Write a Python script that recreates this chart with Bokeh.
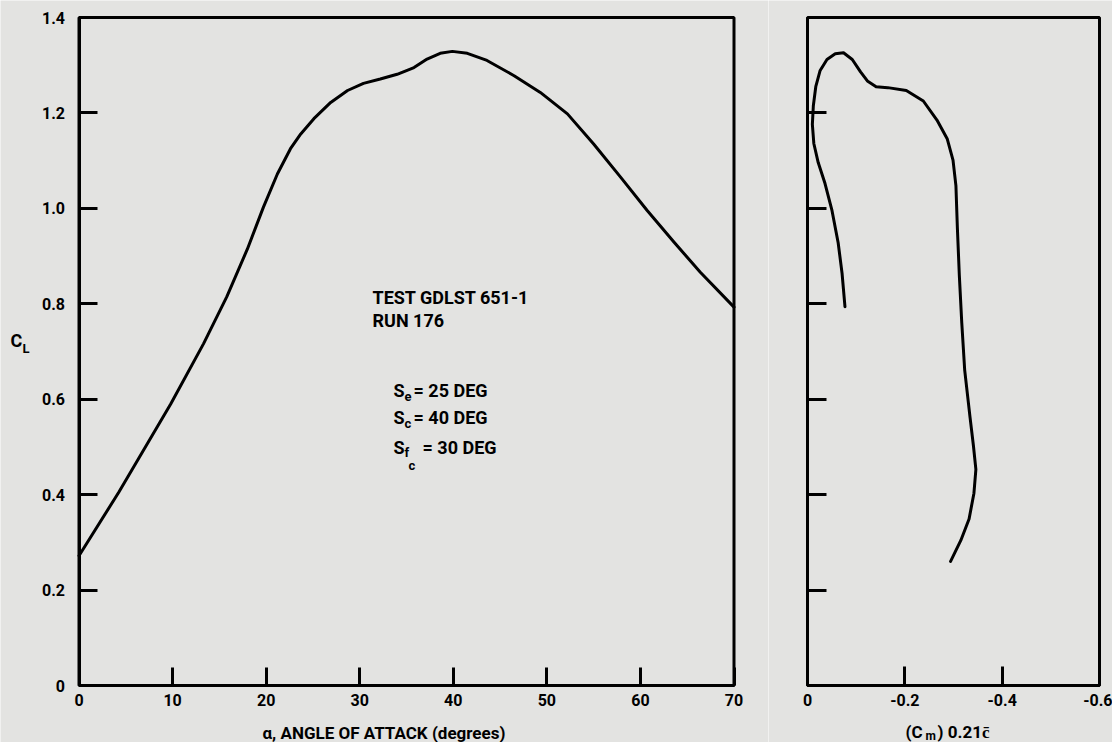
from bokeh.plotting import figure
from bokeh.layouts import row
from bokeh.models import Range1d, Label, FixedTicker, BoxAnnotation
from bokeh.embed import file_html
from bokeh.resources import INLINE

# ---- data ----
alpha_deg = [0, 4.25, 9.8, 13.3, 15.8, 18.0, 19.7, 21.2, 22.6, 23.7, 25.1, 26.9, 28.7, 30.4, 32.2, 34.0,
             35.8, 37.2, 38.6, 39.9, 41.5, 43.6, 46.5, 49.3, 52.2, 55.0, 57.9, 60.7, 63.6, 66.4, 70.0]
cl_alpha = [0.272, 0.405, 0.590, 0.716, 0.815, 0.915, 1.002, 1.072, 1.125, 1.156, 1.188, 1.222, 1.247,
            1.262, 1.271, 1.281, 1.295, 1.313, 1.325, 1.329, 1.325, 1.310, 1.278, 1.243, 1.198, 1.135,
            1.065, 0.996, 0.929, 0.866, 0.793]

cm_vals = [-0.294, -0.315, -0.332, -0.342, -0.346, -0.341, -0.334, -0.323, -0.317, -0.312, -0.308, -0.305,
           -0.299, -0.287, -0.266, -0.238, -0.203, -0.165, -0.141, -0.123, -0.109, -0.092, -0.074, -0.057,
           -0.040, -0.026, -0.017, -0.012, -0.010, -0.013, -0.022, -0.036, -0.050, -0.063, -0.071, -0.077]
cl_cm = [0.260, 0.304, 0.349, 0.403, 0.453, 0.502, 0.562, 0.661, 0.760, 0.859, 0.958, 1.047,
         1.101, 1.146, 1.185, 1.225, 1.247, 1.253, 1.255, 1.267, 1.286, 1.312, 1.326, 1.324,
         1.312, 1.289, 1.255, 1.215, 1.176, 1.136, 1.096, 1.052, 0.997, 0.928, 0.864, 0.794]

x_ticks_left = [0, 10, 20, 30, 40, 50, 60, 70]
y_ticks = [0, 0.2, 0.4, 0.6, 0.8, 1.0, 1.2, 1.4]
y_tick_labels = ["0", "0.2", "0.4", "0.6", "0.8", "1.0", "1.2", "1.4"]
x_ticks_right = [0, -0.2, -0.4, -0.6]
x_tick_labels_right = ["0", "-0.2", "-0.4", "-0.6"]
y_ticks_right = [0.2, 0.4, 0.6, 0.8, 1.0, 1.2]

FONT = "Roboto"
BG = "#e3e3e1"

# ---- layout (pixels on the page) ----
H = 742
W1, W2 = 768, 344
LX0, LX70 = 78.5, 733.5          # left box edges (x = 0 and 70)
PY0, PY14 = 685.0, 17.0          # box bottom / top (CL = 0 and 1.4)
RX0, RX6 = 807.0, 1099.0         # right box edges (Cm = 0 and -0.6)

SX1 = (LX70 - LX0) / 70.0
SY = (PY0 - PY14) / 1.4
SX2 = (RX6 - RX0) / 0.6


def Lpt(px, py):
    return (px - LX0) / SX1, (PY0 - py) / SY


def Rpt(px, py):
    return -(px - RX0) / SX2, (PY0 - py) / SY


y_lo, y_hi = -(H - PY0) / SY, 1.4 + PY14 / SY


def style(p, tick_len, xb, yb):
    p.title.visible = False
    p.background_fill_color = BG
    p.border_fill_color = BG
    p.outline_line_color = None
    p.xgrid.visible = False
    p.ygrid.visible = False
    p.xaxis.fixed_location = 0
    p.yaxis.fixed_location = 0
    p.xaxis.bounds = xb
    p.yaxis.bounds = yb
    for ax in (p.xaxis[0], p.yaxis[0]):
        ax.axis_line_width = 3
        ax.axis_line_color = "black"
        ax.major_tick_line_width = 3
        ax.major_tick_line_color = "black"
        ax.major_tick_in = tick_len
        ax.major_tick_out = 0
        ax.minor_tick_line_color = None
        ax.major_label_text_font = FONT
        ax.major_label_text_font_style = "bold"
        ax.major_label_text_font_size = "16px"
        ax.major_label_text_color = "black"


def lab(p, xy, text, size="18px"):
    p.add_layout(Label(x=xy[0], y=xy[1], text=text, text_font=FONT, text_font_style="bold",
                       text_font_size=size, text_color="black", text_baseline="alphabetic",
                       text_align="left"))


def frame_box(p, left, right):
    p.add_layout(BoxAnnotation(left=left, right=right, bottom=0, top=1.4, fill_color=None,
                               line_color="black", line_alpha=1.0, line_width=3))


# ---- left panel ----
p1 = figure(width=W1, height=H, output_backend="svg", toolbar_location=None,
            x_range=Range1d(-LX0 / SX1, 70 + (W1 - LX70) / SX1), y_range=Range1d(y_lo, y_hi),
            min_border=0, min_border_left=0, min_border_right=0, min_border_top=0, min_border_bottom=0)
style(p1, 18, (0, 70), (0, 1.4))
p1.xaxis.ticker = FixedTicker(ticks=x_ticks_left)
p1.yaxis.ticker = FixedTicker(ticks=y_ticks)
p1.yaxis.major_label_overrides = {t: s for t, s in zip(y_ticks, y_tick_labels)}
p1.yaxis.major_label_standoff = 14
p1.xaxis.major_label_standoff = 8
frame_box(p1, 0, 70)
p1.line(alpha_deg, cl_alpha, line_width=3, color="black", line_join="round", line_cap="round")

lab(p1, Lpt(10, 340), "C", "18px")
lab(p1, Lpt(22, 348), "L", "13px")
lab(p1, Lpt(262, 732), "α, ANGLE OF ATTACK (degrees)", "17px")

lab(p1, Lpt(372, 297), "TEST GDLST 651-1")
lab(p1, Lpt(372, 320), "RUN 176")
lab(p1, Lpt(393, 390), "S")
lab(p1, Lpt(404, 396), "e", "13px")
lab(p1, Lpt(413, 390), "= 25 DEG")
lab(p1, Lpt(393, 417), "S")
lab(p1, Lpt(404, 423), "c", "13px")
lab(p1, Lpt(413, 417), "= 40 DEG")
lab(p1, Lpt(393, 447), "S")
lab(p1, Lpt(404, 452), "f", "13px")
lab(p1, Lpt(408, 465), "c", "13px")
lab(p1, Lpt(422, 447), "= 30 DEG")

# ---- right panel ----
p2 = figure(width=W2, height=H, output_backend="svg", toolbar_location=None,
            x_range=Range1d((RX0 - W1) / SX2, -0.6 - (W1 + W2 - RX6) / SX2), y_range=Range1d(y_lo, y_hi),
            min_border=0, min_border_left=0, min_border_right=0, min_border_top=0, min_border_bottom=0)
style(p2, 19, (-0.6, 0), (0, 1.4))
p2.xaxis.ticker = FixedTicker(ticks=x_ticks_right)
p2.xaxis.major_label_overrides = {t: s for t, s in zip(x_ticks_right, x_tick_labels_right)}
p2.xaxis.major_label_standoff = 8
p2.yaxis.ticker = FixedTicker(ticks=y_ticks_right)
p2.yaxis.major_label_text_color = None
p2.yaxis.major_label_text_font_size = "0px"
frame_box(p2, 0, -0.6)
p2.line(cm_vals, cl_cm, line_width=3, color="black", line_join="round", line_cap="round")

lab(p2, Rpt(905, 731), "(C", "17px")
lab(p2, Rpt(925, 735), "m", "12px")
lab(p2, Rpt(937, 731), ")  0.21c\u0304", "17px")

layout = row(p1, p2)
open("out.html", "w").write(file_html(layout, INLINE))
